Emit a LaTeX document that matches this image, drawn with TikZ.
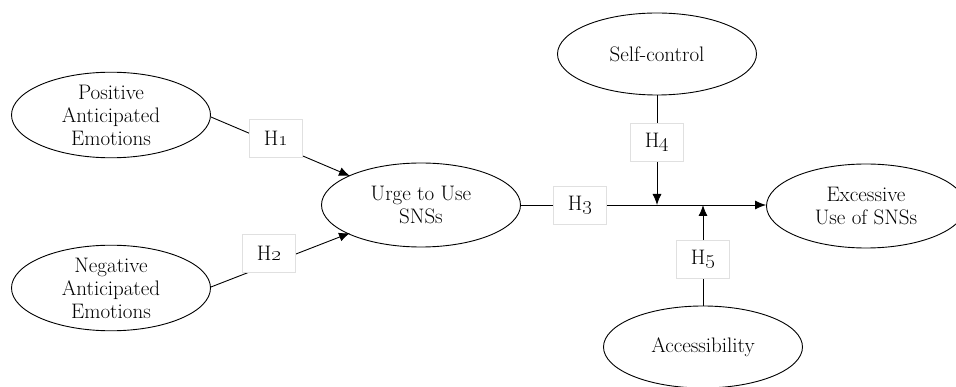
\documentclass[tikz,border=0pt]{standalone}
\usetikzlibrary{shapes.geometric,arrows.meta}
\begin{document}
\begin{tikzpicture}[x=1pt,y=-1pt,
  construct/.style={ellipse,draw,line width=0.9pt,minimum width=199pt,minimum height=84pt,inner sep=0pt,align=center,
    font=\fontsize{21}{23}\selectfont},
  hbox/.style={draw=black!12,fill=white,line width=0.6pt,minimum width=53pt,minimum height=38pt,inner sep=0pt,
    font=\fontsize{21}{23}\selectfont},
  arr/.style={line width=0.9pt,-{Latex[length=11pt,width=9pt]}}]
\useasboundingbox (0,0) rectangle (956,387);
\node[construct] (pos) at (111,115) {Positive\\Anticipated\\Emotions};
\node[construct] (neg) at (111,288) {Negative\\Anticipated\\Emotions};
\node[construct] (urge) at (421,205) {Urge to Use\\SNSs};
\node[construct,minimum height=82pt] (self) at (657,54) {Self-control};
\node[construct] (exc) at (866,206) {Excessive\\Use of SNSs};
\node[construct,minimum height=82pt] (acc) at (703,347) {Accessibility};
\coordinate (m4) at (657,205);
\coordinate (m5) at (703,205);
\coordinate (p1) at (350,176);
\coordinate (p2) at (350,233);
\draw[arr] (pos.east) ++(0,2) -- (p1);
\draw[arr] (neg.east) ++(0,-1) -- (p2);
\draw[arr] (urge.east) -- (exc.west |- urge.east);
\draw[arr] (self.south) -- (m4);
\draw[arr] (acc.north) -- (m5);
\node[hbox] (h1) at (276,138) {H\oldstylenums{1}};
\node[hbox] (h2) at (269,253) {H\oldstylenums{2}};
\node[hbox] (h3) at (580,205) {H\oldstylenums{3}};
\node[hbox] (h4) at (657,142) {H\oldstylenums{4}};
\node[hbox] (h5) at (703,259) {H\oldstylenums{5}};
\end{tikzpicture}
\end{document}
